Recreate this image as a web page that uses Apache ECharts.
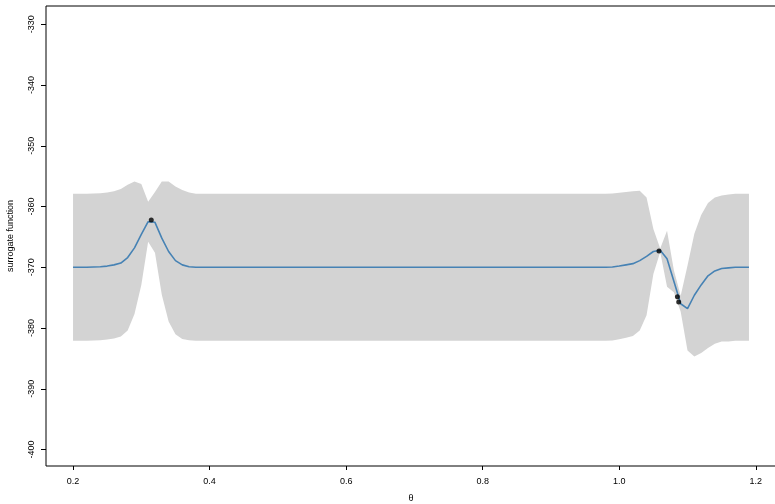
<!DOCTYPE html>
<html>
<head>
<meta charset="utf-8">
<script src="https://cdn.jsdelivr.net/npm/echarts@6/dist/echarts.min.js"></script>
<style>
html,body{margin:0;padding:0;background:#fff;}
#chart{width:775px;height:504px;}
</style>
</head>
<body>
<div id="chart"></div>
<script>
// grid of theta values
var thetaGrid = [
0.20,0.21,0.22,0.23,0.24,0.25,0.26,0.27,0.28,0.29,
0.30,0.31,0.32,0.33,0.34,0.35,0.36,0.37,0.38,0.39,
0.40,0.41,0.42,0.43,0.44,0.45,0.46,0.47,0.48,0.49,
0.50,0.51,0.52,0.53,0.54,0.55,0.56,0.57,0.58,0.59,
0.60,0.61,0.62,0.63,0.64,0.65,0.66,0.67,0.68,0.69,
0.70,0.71,0.72,0.73,0.74,0.75,0.76,0.77,0.78,0.79,
0.80,0.81,0.82,0.83,0.84,0.85,0.86,0.87,0.88,0.89,
0.90,0.91,0.92,0.93,0.94,0.95,0.96,0.97,0.98,0.99,
1.00,1.01,1.02,1.03,1.04,1.05,1.06,1.07,1.08,1.09,
1.10,1.11,1.12,1.13,1.14,1.15,1.16,1.17,1.18,1.19
];
// surrogate mean
var meanValues = [
-370.0,-370.0,-370.0,-369.95,-369.9,-369.8,-369.6,-369.3,-368.4,-366.8,
-364.6,-362.5,-362.6,-365.2,-367.4,-368.9,-369.6,-369.9,-370.0,-370.0,
-370.0,-370.0,-370.0,-370.0,-370.0,-370.0,-370.0,-370.0,-370.0,-370.0,
-370.0,-370.0,-370.0,-370.0,-370.0,-370.0,-370.0,-370.0,-370.0,-370.0,
-370.0,-370.0,-370.0,-370.0,-370.0,-370.0,-370.0,-370.0,-370.0,-370.0,
-370.0,-370.0,-370.0,-370.0,-370.0,-370.0,-370.0,-370.0,-370.0,-370.0,
-370.0,-370.0,-370.0,-370.0,-370.0,-370.0,-370.0,-370.0,-370.0,-370.0,
-370.0,-370.0,-370.0,-370.0,-370.0,-370.0,-370.0,-370.0,-370.0,-369.95,
-369.8,-369.6,-369.4,-368.9,-368.2,-367.4,-367.2,-368.6,-372.3,-376.0,
-376.8,-374.6,-372.9,-371.4,-370.6,-370.2,-370.1,-370.0,-370.0,-370.0
];
// upper band
var upperValues = [
-357.9,-357.9,-357.9,-357.85,-357.8,-357.7,-357.5,-357.1,-356.4,-355.9,
-356.3,-359.2,-357.6,-355.9,-355.9,-356.7,-357.3,-357.7,-357.9,-357.9,
-357.9,-357.9,-357.9,-357.9,-357.9,-357.9,-357.9,-357.9,-357.9,-357.9,
-357.9,-357.9,-357.9,-357.9,-357.9,-357.9,-357.9,-357.9,-357.9,-357.9,
-357.9,-357.9,-357.9,-357.9,-357.9,-357.9,-357.9,-357.9,-357.9,-357.9,
-357.9,-357.9,-357.9,-357.9,-357.9,-357.9,-357.9,-357.9,-357.9,-357.9,
-357.9,-357.9,-357.9,-357.9,-357.9,-357.9,-357.9,-357.9,-357.9,-357.9,
-357.9,-357.9,-357.9,-357.9,-357.9,-357.9,-357.9,-357.9,-357.9,-357.85,
-357.75,-357.6,-357.5,-357.4,-358.5,-363.7,-366.9,-364.0,-370.5,-374.7,
-369.7,-364.5,-361.4,-359.4,-358.5,-358.2,-358.0,-357.9,-357.9,-357.9
];
// lower band
var lowerValues = [
-382.1,-382.1,-382.1,-382.05,-382.0,-381.9,-381.7,-381.4,-380.4,-377.7,
-372.9,-365.8,-367.6,-374.5,-378.9,-381.0,-381.8,-382.0,-382.1,-382.1,
-382.1,-382.1,-382.1,-382.1,-382.1,-382.1,-382.1,-382.1,-382.1,-382.1,
-382.1,-382.1,-382.1,-382.1,-382.1,-382.1,-382.1,-382.1,-382.1,-382.1,
-382.1,-382.1,-382.1,-382.1,-382.1,-382.1,-382.1,-382.1,-382.1,-382.1,
-382.1,-382.1,-382.1,-382.1,-382.1,-382.1,-382.1,-382.1,-382.1,-382.1,
-382.1,-382.1,-382.1,-382.1,-382.1,-382.1,-382.1,-382.1,-382.1,-382.1,
-382.1,-382.1,-382.1,-382.1,-382.1,-382.1,-382.1,-382.1,-382.1,-382.05,
-381.85,-381.6,-381.3,-380.4,-377.9,-371.1,-367.5,-373.2,-374.1,-377.3,
-383.7,-384.7,-384.1,-383.3,-382.6,-382.2,-382.2,-382.1,-382.1,-382.1
];
// observed points
var obsTheta = [0.3146, 1.0582, 1.0852, 1.0871];
var obsValue = [-362.2, -367.3, -374.85, -375.7];
// tick labels
var xTicks = [0.2, 0.4, 0.6, 0.8, 1.0, 1.2];
var yTicks = [-400, -390, -380, -370, -360, -350, -340, -330];

var meanData = thetaGrid.map(function(x, i){ return [x, meanValues[i]]; });
var bandData = thetaGrid.map(function(x, i){ return [x, lowerValues[i], upperValues[i]]; });
var obsData = obsTheta.map(function(x, i){ return [x, obsValue[i]]; });

var FONT = "'Liberation Sans', Arial, Helvetica, sans-serif";
var chart = echarts.init(document.getElementById('chart'), null, {renderer: 'canvas'});
chart.setOption({
  animation: false,
  backgroundColor: '#ffffff',
  grid: {
    left: 46, top: 6, width: 730, height: 460,
    show: true, borderColor: '#000', borderWidth: 1,
    backgroundColor: 'transparent',
    containLabel: false,
    outerBoundsMode: 'none'
  },
  xAxis: {
    type: 'value',
    min: 0.1604, max: 1.2296,
    name: 'θ',
    nameLocation: 'middle',
    nameGap: 28,
    nameTextStyle: {fontFamily: FONT, fontSize: 9, color: '#000'},
    axisLine: {show: false},
    splitLine: {show: false},
    axisTick: {show: true, inside: false, length: 4, customValues: xTicks, lineStyle: {color: '#000', width: 1}},
    axisLabel: {
      show: true, margin: 11, customValues: xTicks,
      fontFamily: FONT, fontSize: 9, color: '#000',
      formatter: function(v){ return Number(v).toFixed(1); }
    }
  },
  yAxis: {
    type: 'value',
    min: -402.7, max: -327.0,
    name: 'surrogate function',
    nameLocation: 'middle',
    nameGap: 31,
    nameRotate: 90,
    nameTextStyle: {fontFamily: FONT, fontSize: 9, color: '#000'},
    axisLine: {show: false},
    splitLine: {show: false},
    axisTick: {show: true, inside: false, length: 5, customValues: yTicks, lineStyle: {color: '#000', width: 1}},
    axisLabel: {
      show: true, margin: 10, rotate: 90, customValues: yTicks,
      fontFamily: FONT, fontSize: 9, color: '#000',
      formatter: function(v){ return String(Math.round(v)); }
    }
  },
  series: [
    {
      type: 'custom',
      name: 'band',
      data: bandData,
      silent: true,
      z: 1,
      clip: true,
      renderItem: function(params, api){
        if (params.dataIndex !== 0) return null;
        var pts = [];
        for (var i = 0; i < bandData.length; i++) {
          pts.push(api.coord([bandData[i][0], bandData[i][2]]));
        }
        for (var j = bandData.length - 1; j >= 0; j--) {
          pts.push(api.coord([bandData[j][0], bandData[j][1]]));
        }
        return {
          type: 'polygon',
          shape: {points: pts},
          style: {fill: '#d3d3d3', stroke: null}
        };
      }
    },
    {
      type: 'line',
      name: 'mean',
      data: meanData,
      symbol: 'none',
      smooth: false,
      z: 3,
      lineStyle: {color: '#4682b4', width: 1.6}
    },
    {
      type: 'scatter',
      name: 'observed',
      data: obsData,
      symbol: 'circle',
      symbolSize: 5,
      z: 4,
      itemStyle: {color: '#000'}
    }
  ]
});
</script>
</body>
</html>
